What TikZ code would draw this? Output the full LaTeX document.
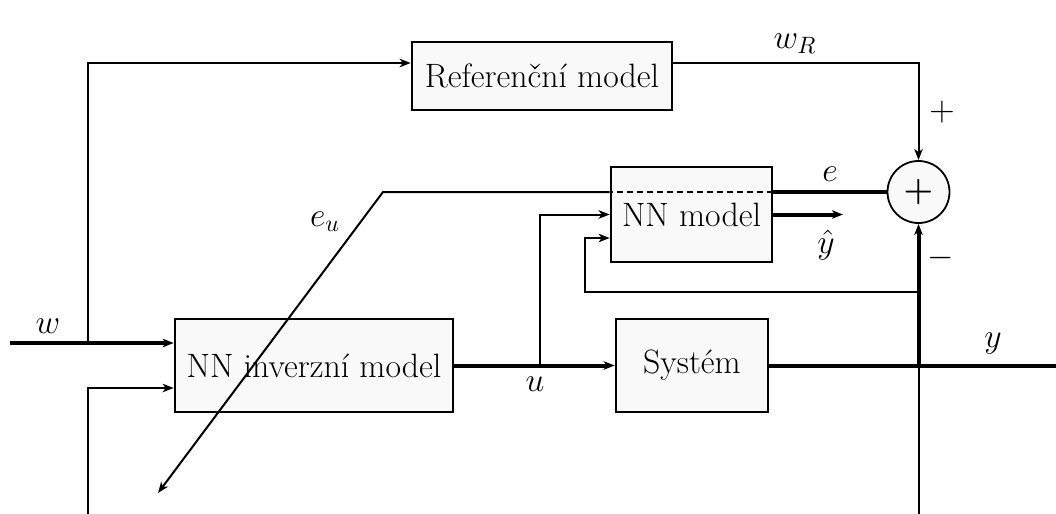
\RequirePackage{fix-cm}
\documentclass[tikz,border=0pt]{standalone}
\usetikzlibrary{arrows.meta,calc}
\definecolor{boxfill}{gray}{0.975}
\tikzset{
  blk/.style={draw, line width=1.3pt, fill=boxfill, inner sep=0pt},
  sig/.style={line width=1pt},
  bus/.style={line width=2pt},
  tip/.style={-{Stealth[length=5.5pt,width=4.2pt,inset=1.5pt]}},
  lbl/.style={inner sep=0pt}
}
\begin{document}
\begin{tikzpicture}[x=0.5pt, y=-0.5pt, font=\fontsize{16.9}{20.3}\selectfont]
\useasboundingbox (0,0) rectangle (1056,514);

% blocks
\node[blk, minimum width=130pt, minimum height=34pt] (ref) at (542,76) {Referenční model};
\node[blk, minimum width=80.5pt, minimum height=47.5pt] (nnm) at (691.5,214.5) {NN model};
\node[blk, minimum width=139pt, minimum height=46.5pt] (inv) at (314,365.5) {NN inverzní model};
\node[blk, minimum width=76pt, minimum height=46.5pt] (sys) at (692,365.5) {Systém};
\node[draw, circle, line width=0.9pt, fill=boxfill, minimum size=31pt, inner sep=0pt] (sum) at (918.5,192) {\textbf{+}};

% free ends and branch points
\coordinate (win) at (10,343);
\coordinate (wsplit) at (88,343);
\coordinate (bl) at (88,514);
\coordinate (usplit) at (540,365.5);
\coordinate (yout) at (1056,365.5);
\coordinate (ybot) at (918.5,514);
\coordinate (ytap) at (918.5,365.5);
\coordinate (fb) at (918.5,292);
\coordinate (fbcorner) at (585,292);
\coordinate (ebend) at (383,192);
\coordinate (eu) at (158,493);
\coordinate (yhat) at (843,214.5);

% reference input
\draw[bus,tip] (win) -- (inv.west |- win);
\draw[sig,tip] (wsplit) |- ([yshift=6.5pt]ref.west);
\draw[sig,tip] ([yshift=6.5pt]ref.east) -| (sum.north);
\draw[sig,tip] (bl) |- ([yshift=-11.25pt]inv.west);

% control signal
\draw[bus,tip] (inv.east) -- (sys.west);
\draw[sig,tip] (usplit) |- (nnm.west);

% plant output
\draw[bus] (sys.east) -- (yout);
\draw[sig] (ybot) -- (ytap);
\draw[bus,tip] (ytap) -- (sum.south);
\draw[sig,tip] (fb) -- (fbcorner) |- ([yshift=-11.75pt]nnm.west);

% error path
\draw[bus] (sum.west) -- (nnm.east |- sum.west);
\draw[sig, dash pattern=on 3pt off 2pt] (nnm.east |- sum.west) -- (nnm.west |- sum.west);
\draw[sig,tip] (nnm.west |- sum.west) -- (ebend) -- (eu);

% model output
\draw[bus,tip] (nnm.east) -- (yhat);

% labels
\node[lbl] at (48,326) {$w$};
\node[lbl] at (795,44) {$w_R$};
\node[lbl] at (942,112) {$+$};
\node[lbl] at (941,258) {$-$};
\node[lbl] at (830,174) {$e$};
\node[lbl] at (826,245) {$\hat{y}$};
\node[lbl] at (325,222) {$e_u$};
\node[lbl] at (535,384) {$u$};
\node[lbl] at (993,344) {$y$};
\end{tikzpicture}
\end{document}
